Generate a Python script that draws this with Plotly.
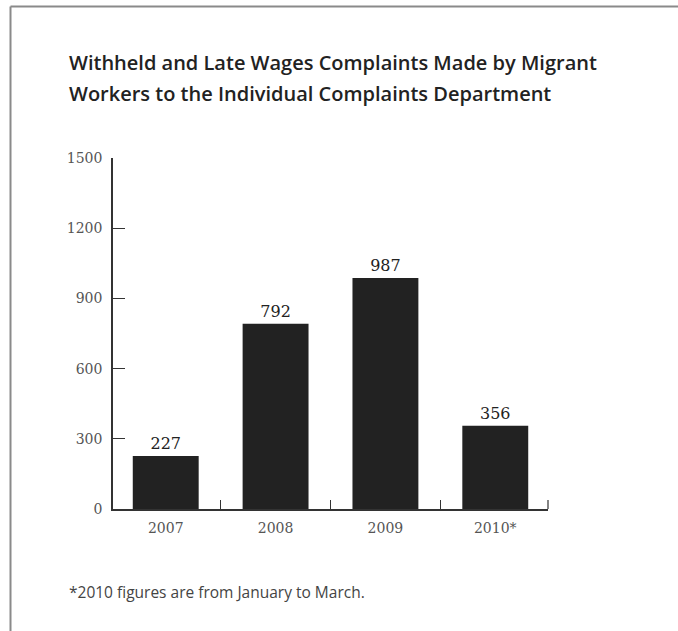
import plotly.graph_objects as go

categories = ["2007", "2008", "2009", "2010*"]
complaints = [227, 792, 987, 356]
y_ticks = [0, 300, 600, 900, 1200, 1500]

title_line1 = "Withheld and Late Wages Complaints Made by Migrant"
title_line2 = "Workers to the Individual Complaints Department"
footnote = "*2010 figures are from January to March."

W, H = 678, 631
L, R, T, B = 113, 130, 158, 122
PW, PH = W - L - R, H - T - B

def px_x(p):
    return (p - L) / PW

def px_y(p):
    return 1 - (p - T) / PH

fig = go.Figure()
fig.add_trace(go.Bar(
    x=categories, y=complaints,
    width=0.6,
    marker=dict(color="#222222", line=dict(width=0)),
    text=[str(v) for v in complaints],
    textposition="outside",
    textfont=dict(family="DejaVu Serif", size=16, color="#222222"),
    cliponaxis=False,
))

axis_col = "#333333"
fig.update_layout(
    width=W, height=H,
    margin=dict(l=L, r=R, t=T, b=B, pad=0),
    paper_bgcolor="white", plot_bgcolor="white",
    showlegend=False,
    bargap=0.4,
    xaxis=dict(
        type="category", range=[-0.48, 3.48],
        showgrid=False, zeroline=False,
        showline=True, linecolor=axis_col, linewidth=1.5,
        ticks="inside", tickson="boundaries", ticklen=9, tickwidth=1.2, tickcolor=axis_col,
        tickfont=dict(family="DejaVu Serif", size=14, color="#555555"),
        ticklabelstandoff=5,
    ),
    yaxis=dict(
        range=[0, 1500], tickvals=y_ticks,
        showgrid=False, zeroline=False,
        showline=True, linecolor=axis_col, linewidth=1.5,
        ticks="inside", ticklen=12, tickwidth=1.2, tickcolor=axis_col,
        tickfont=dict(family="DejaVu Serif", size=14, color="#555555"),
        ticklabelstandoff=6,
    ),
)

# closing tick at the right end of the x axis
fig.add_shape(type="line", xref="x domain", yref="y domain",
              x0=1, x1=1, y0=0, y1=9 / PH, line=dict(color=axis_col, width=1.2))

# page frame (top and left)
frame_col = "#8a8a8a"
fig.add_shape(type="line", xref="paper", yref="paper",
              x0=px_x(10.5), x1=px_x(W + 5), y0=px_y(6.5), y1=px_y(6.5),
              line=dict(color=frame_col, width=2))
fig.add_shape(type="line", xref="paper", yref="paper",
              x0=px_x(10.5), x1=px_x(10.5), y0=px_y(6.5), y1=px_y(H + 5),
              line=dict(color=frame_col, width=2))

title_font = dict(family="Open Sans", size=20, color="#222222", weight=600)
fig.add_annotation(text=title_line1, xref="paper", yref="paper",
                   x=px_x(67), y=px_y(63), xanchor="left", yanchor="middle",
                   showarrow=False, font=title_font)
fig.add_annotation(text=title_line2, xref="paper", yref="paper",
                   x=px_x(67), y=px_y(93), xanchor="left", yanchor="middle",
                   showarrow=False, font=title_font)
fig.add_annotation(text=footnote, xref="paper", yref="paper",
                   x=px_x(67), y=px_y(592), xanchor="left", yanchor="middle",
                   showarrow=False, font=dict(family="Open Sans", size=15.5, color="#444444"))

fig.write_html("out.html")
